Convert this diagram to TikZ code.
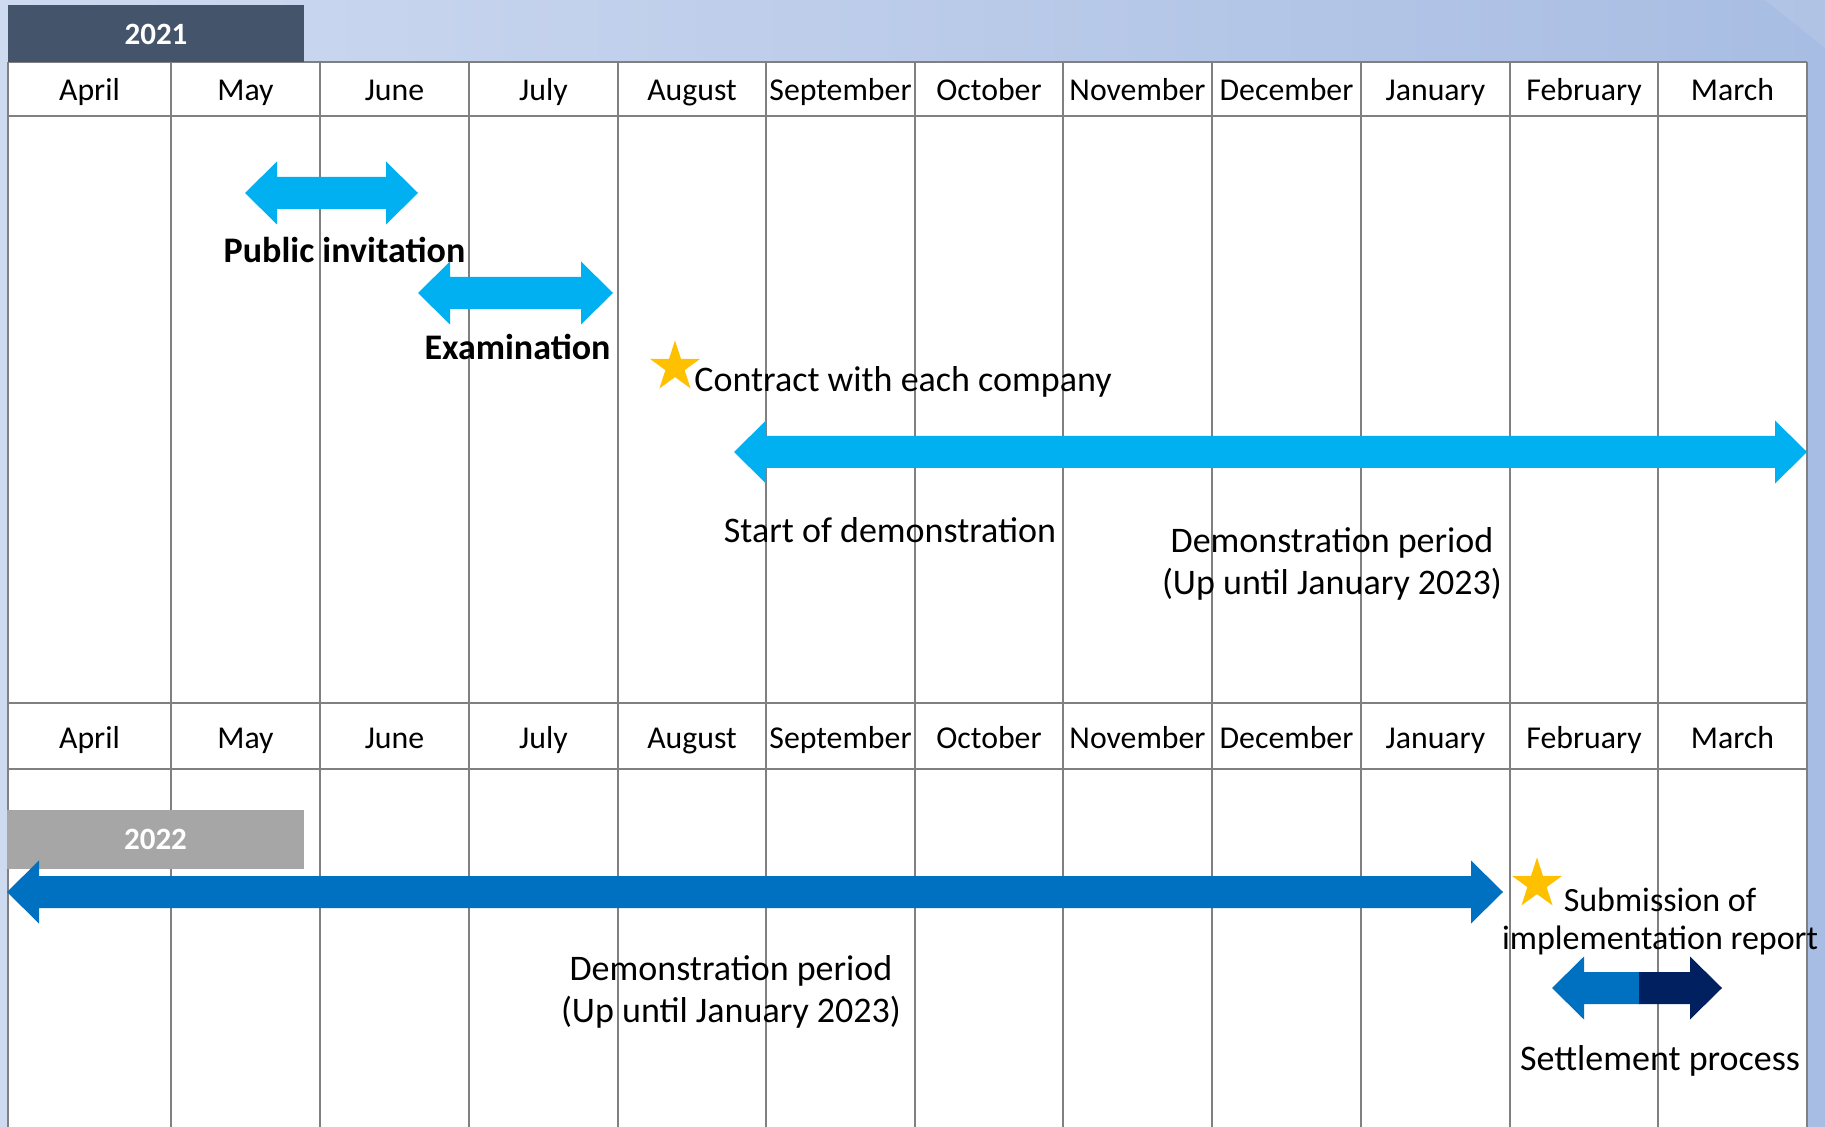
\documentclass[tikz,border=0pt]{standalone}
\usepackage{fontspec}
\setmainfont{Carlito}
\usetikzlibrary{shapes.geometric}

\definecolor{bgleft}{RGB}{206,218,240}
\definecolor{bgright}{RGB}{168,189,227}
\definecolor{gridgray}{RGB}{128,128,128}
\definecolor{lightblue}{RGB}{0,176,240}
\definecolor{midblue}{RGB}{0,112,192}
\definecolor{navy}{RGB}{0,32,96}
\definecolor{stargold}{RGB}{255,192,0}
\definecolor{slate}{RGB}{68,84,106}
\definecolor{yeargray}{RGB}{166,166,166}

% double headed bar: left x, right x, y, colour
\newcommand{\spanarrow}[4]{%
  \fill[#4] (#1,#3) -- ({#1+32},{#3-31.5}) -- ({#1+32},{#3-16}) -- ({#2-32},{#3-16})
    -- ({#2-32},{#3-31.5}) -- (#2,#3) -- ({#2-32},{#3+31.5}) -- ({#2-32},{#3+16})
    -- ({#1+32},{#3+16}) -- ({#1+32},{#3+31.5}) -- cycle;}

\begin{document}
\begin{tikzpicture}[x=0.5pt,y=-0.5pt,
  gridline/.style={gridgray,line width=1.3pt},
  month/.style={inner sep=0pt,anchor=base,font=\fontsize{15.9}{18}\selectfont},
  lbl/.style={inner sep=0pt,anchor=base,font=\fontsize{18}{21}\selectfont,align=center},
  boldlbl/.style={lbl,font=\fontsize{18}{21}\selectfont\bfseries},
  yearbox/.style={inner sep=0pt,text=white,font=\fontsize{15.5}{18}\selectfont\bfseries},
  goldstar/.style={star,star points=5,star point ratio=2.618,minimum size=26.5pt,inner sep=0pt,fill=stargold}]
\useasboundingbox (0,0) rectangle (1825,1127);

% background and sheet
\shade[left color=bgleft,right color=bgright] (0,0) rectangle (1825,1127);
\fill[white,opacity=0.1] (1765,0) -- (1825,0) -- (1825,48) -- cycle;
\fill[white] (8,62) rectangle (1807,1127);

% grid
\foreach \y in {62,116,703,769}
    \draw[gridline] (8,\y) -- (1807,\y);
\foreach \x in {8,171,320,469,618,766,915,1063,1212,1361,1510,1658,1807}
    \draw[gridline] (\x,62) -- (\x,1127);

\foreach \m/\x [count=\i] in {April/89.5,May/245.5,June/394.5,July/543.5,August/692,September/840.5,October/989,November/1137.5,December/1286.5,January/1435.5,February/1584,March/1732.5}
{
    \node[month] (ma-\i) at (\x,101) {\m};
    \node[month] (mb-\i) at (\x,748) {\m};
}

% year tags
\node[yearbox,fill=slate,minimum width=148pt,minimum height=28.5pt] (y2021) at (156,34) {2021};
\node[yearbox,fill=yeargray,minimum width=148.5pt,minimum height=29.5pt] (y2022) at (155.5,839) {2022};

% 2021
\spanarrow{245}{418}{193}{lightblue}
\node[boldlbl] (invite) at (344.5,263) {Public invitation};
\spanarrow{418}{613}{293}{lightblue}
\node[boldlbl] (exam) at (517.5,360) {Examination};
\node[goldstar] (star1) at (675,367) {};
\node[lbl,anchor=base west] (contract) at (694,392) {Contract with each company};
\spanarrow{734}{1807}{452}{lightblue}
\node[lbl] (start) at (890,543) {Start of demonstration};
\node[lbl] (period1) at (1332,595) {Demonstration period\\(Up until January 2023)};

% 2022
\spanarrow{7}{1503}{892}{midblue}
\node[lbl] (period2) at (731,1022) {Demonstration period\\(Up until January 2023)};
\node[goldstar] (star2) at (1537,884) {};
\node[lbl,font=\fontsize{17}{19}\selectfont] (report) at (1660,949) {Submission of\\implementation report};
\fill[midblue] (1552,988) -- (1584,956.5) -- (1584,972) -- (1639.5,972) -- (1639.5,1004) -- (1584,1004) -- (1584,1019.5) -- cycle;
\fill[navy] (1639,972) -- (1690,972) -- (1690,956.5) -- (1722,988) -- (1690,1019.5) -- (1690,1004) -- (1639,1004) -- cycle;
\node[lbl] (settle) at (1660,1070) {Settlement process};

\end{tikzpicture}
\end{document}
